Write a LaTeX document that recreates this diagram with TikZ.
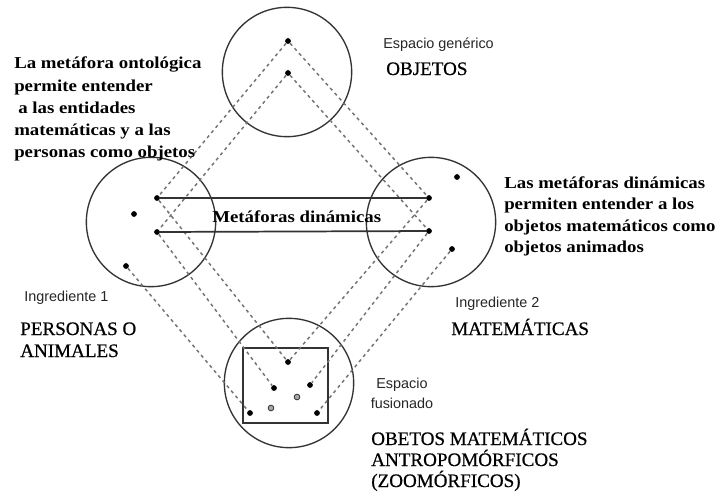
\documentclass[tikz,border=0pt]{standalone}
\usepackage{fontspec}
\setmainfont{Liberation Serif}
\newfontfamily\bserif[FakeStretch=1.13]{Liberation Serif}
\newfontfamily\capserif[FakeBold=0.6]{Liberation Serif}
\newfontfamily\lsans{Liberation Sans}
\begin{document}
\begin{tikzpicture}[x=0.75pt,y=-0.75pt,
  ring/.style={draw=black!80,line width=1pt,circle,inner sep=0pt,minimum size=97pt},
  dot/.style={circle,fill=black,inner sep=0pt,minimum size=4.3pt},
  odot/.style={circle,draw=black!80,fill=black!35,line width=0.6pt,inner sep=0pt,minimum size=4.3pt},
  link/.style={draw=black!55,line width=1.1pt,dash pattern=on 2.4pt off 2.6pt},
  bridge/.style={draw=black!80,line width=1.3pt},
  desc/.style={font=\bserif\bfseries\fontsize{12.5}{15}\selectfont,anchor=base west,inner sep=0pt},
  caps/.style={font=\capserif\fontsize{14.3}{17}\selectfont,anchor=base west,inner sep=0pt},
  lab/.style={font=\lsans\fontsize{10.8}{13}\selectfont,text=black!85,anchor=base west,inner sep=0pt}]
\useasboundingbox (0,0) rectangle (717,497);
% circles
\node[ring] (top) at (287,72) {};
\node[ring] (left) at (151,222) {};
\node[ring] (right) at (431,222) {};
\node[ring] (bot) at (289,383) {};
\node[draw=black!80,line width=1pt,minimum width=63.75pt,minimum height=56.25pt,inner sep=0pt] (box) at (285.5,385.5) {};
% dots
\node[dot] (T1) at (288,41) {};
\node[dot] (T2) at (288,73) {};
\node[dot] (L1) at (157,198) {};
\node[dot] (L2) at (134,214) {};
\node[dot] (L3) at (157,232) {};
\node[dot] (L4) at (126,266) {};
\node[dot] (R1) at (457,177) {};
\node[dot] (R2) at (429,198) {};
\node[dot] (R3) at (429,231) {};
\node[dot] (R4) at (452,249) {};
\node[dot] (B1) at (288,362) {};
\node[dot] (B2) at (274,388) {};
\node[dot] (B3) at (310,385) {};
\node[odot] (B4) at (297,397) {};
\node[odot] (B5) at (271,408) {};
\node[dot] (B6) at (250,413) {};
\node[dot] (B7) at (317,413) {};
% dashed mappings
\draw[link] (T1) -- (L1);
\draw[link] (T2) -- (L3);
\draw[link] (T1) -- (R2);
\draw[link] (T2) -- (R3);
\draw[link] (L1) -- (B1);
\draw[link] (L3) -- (B2);
\draw[link] (L4) -- (B6);
\draw[link] (R2) -- (B1);
\draw[link] (R3) -- (B3);
\draw[link] (R4) -- (B7);
% solid bridges
\draw[bridge] (L1) -- (R2);
\draw[bridge] (L3) -- (R3);
\node[desc] (mdin) at (212,222) {Metáforas dinámicas};
% left description
\node[desc] (o1) at (14,68) {La metáfora ontológica};
\node[desc] (o2) at (14,91) {permite entender};
\node[desc] (o3) at (18,113) {a las entidades};
\node[desc] (o4) at (14,135) {matemáticas y a las};
\node[desc] (o5) at (14,157) {personas como objetos};
% right description
\node[desc] (d1) at (504,188) {Las metáforas dinámicas};
\node[desc] (d2) at (504,209.5) {permiten entender a los};
\node[desc] (d3) at (504,231) {objetos matemáticos como};
\node[desc] (d4) at (504,252.5) {objetos animados};
% labels
\node[lab] (eg) at (383,48) {Espacio genérico};
\node[caps] (obj) at (386,75) {OBJETOS};
\node[lab] (i1) at (24,301) {Ingrediente 1};
\node[caps] (p1) at (20,335) {PERSONAS O};
\node[caps] (p2) at (20,357) {ANIMALES};
\node[lab] (i2) at (455,307) {Ingrediente 2};
\node[caps] (mat) at (451,335) {MATEMÁTICAS};
\node[lab,anchor=base] (ef1) at (402,388) {Espacio};
\node[lab,anchor=base] (ef2) at (402,408) {fusionado};
\node[caps] (f1) at (371,445) {OBETOS MATEMÁTICOS};
\node[caps] (f2) at (371,466) {ANTROPOMÓRFICOS};
\node[caps] (f3) at (371,487) {(ZOOMÓRFICOS)};
\end{tikzpicture}
\end{document}
